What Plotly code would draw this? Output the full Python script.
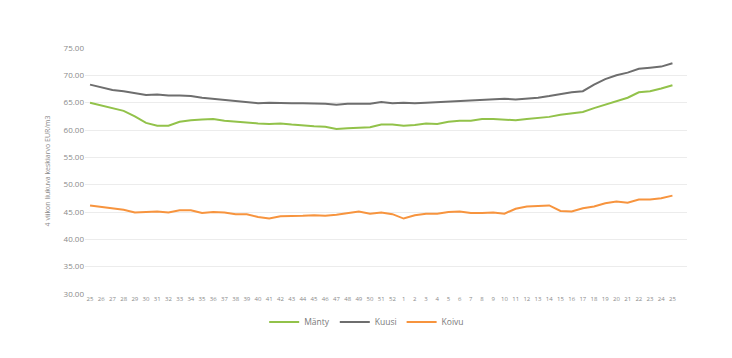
import plotly.graph_objects as go

weeks = [str(w) for w in list(range(25, 53)) + list(range(1, 26))]

manty = [65.0, 64.5, 64.0, 63.5, 62.5, 61.3, 60.8, 60.8, 61.5, 61.8, 61.9, 62.0, 61.7, 61.5,
         61.3, 61.2, 61.1, 61.2, 61.0, 60.8, 60.7, 60.6, 60.2, 60.3, 60.4, 60.5, 61.0, 61.0,
         60.8, 60.9, 61.2, 61.1, 61.5, 61.7, 61.7, 62.0, 62.0, 61.9, 61.8, 62.0, 62.2, 62.4,
         62.8, 63.1, 63.3, 64.0, 64.6, 65.2, 65.9, 66.9, 67.1, 67.6, 68.2]
kuusi = [68.3, 67.8, 67.3, 67.1, 66.8, 66.4, 66.5, 66.3, 66.3, 66.2, 65.9, 65.7, 65.5, 65.3,
         65.1, 64.9, 65.0, 64.9, 64.9, 64.9, 64.9, 64.8, 64.6, 64.8, 64.8, 64.8, 65.1, 64.9,
         65.0, 64.9, 65.0, 65.1, 65.2, 65.3, 65.5, 65.6, 65.7, 65.7, 65.6, 65.7, 65.9, 66.2,
         66.6, 66.9, 67.1, 68.3, 69.3, 70.0, 70.5, 71.2, 71.4, 71.6, 72.2]
koivu = [46.2, 45.9, 45.6, 45.4, 44.9, 45.0, 45.1, 44.9, 45.3, 45.3, 44.8, 45.0, 44.9, 44.6,
         44.6, 44.1, 43.8, 44.2, 44.2, 44.3, 44.4, 44.3, 44.5, 44.8, 45.1, 44.7, 44.9, 44.6,
         43.8, 44.4, 44.7, 44.7, 45.0, 45.1, 44.8, 44.8, 44.9, 44.7, 45.6, 46.0, 46.1, 46.2,
         45.2, 45.1, 45.7, 46.0, 46.6, 46.9, 46.7, 47.3, 47.3, 47.5, 48.0]

y_ticks = [30, 35, 40, 45, 50, 55, 60, 65, 70, 75]
idx = list(range(len(weeks)))

fig = go.Figure()
for name, vals, col in [("Mänty", manty, "#92C24A"),
                        ("Kuusi", kuusi, "#6E6E6E"),
                        ("Koivu", koivu, "#F7943E")]:
    fig.add_trace(go.Scatter(x=idx, y=vals, name=name, mode="lines",
                             line=dict(color=col, width=2)))

fig.update_layout(
    width=732, height=358,
    margin=dict(l=77, r=53, t=40, b=72, autoexpand=False),
    paper_bgcolor="white", plot_bgcolor="white",
    font=dict(family="Open Sans, Liberation Sans, sans-serif", color="#8a8a8a", size=8),
    showlegend=True,
    legend=dict(orientation="h", xref="container", yref="container",
                x=0.49, xanchor="center", y=0.123, yanchor="middle",
                font=dict(size=8.5, color="#7a7a7a"), itemwidth=30,
                tracegroupgap=0),
    xaxis=dict(range=[-0.45, 53.3], tickmode="array", tickvals=idx, ticktext=weeks,
               tickfont=dict(size=6, color="#8a8a8a"), showgrid=False, zeroline=False,
               ticks="", showline=False, automargin=False),
    yaxis=dict(range=[30, 75], tickmode="array", tickvals=y_ticks, tickformat=".2f",
               showgrid=True, gridcolor="#ececec", gridwidth=1, zeroline=False,
               tickfont=dict(size=8, color="#8a8a8a"), ticks="", automargin=False,
               title=dict(text="4 viikon liukuva keskiarvo EUR/m3",
                          font=dict(size=7, color="#8a8a8a"), standoff=12)),
)

fig.write_html("out.html")
